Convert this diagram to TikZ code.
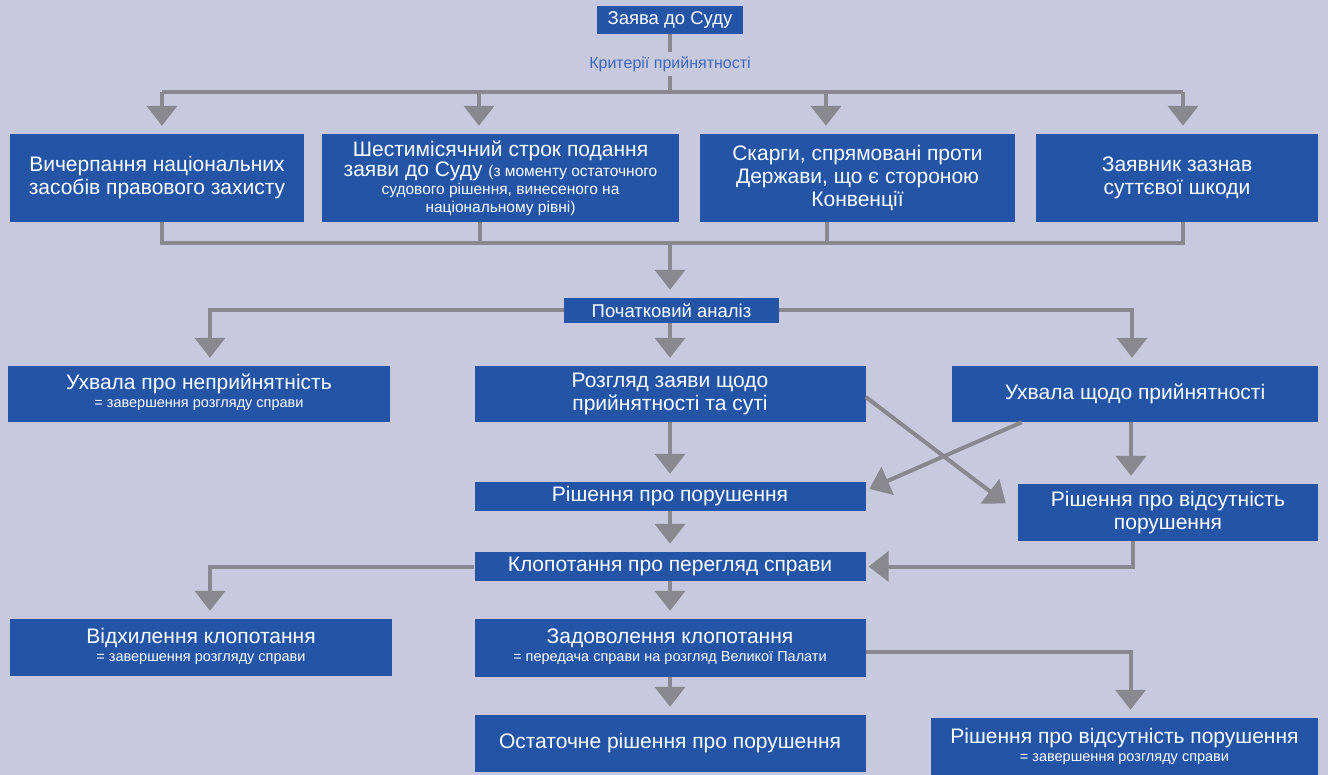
\documentclass[tikz,border=0pt]{standalone}
\usepackage{fontspec}
\setmainfont{Liberation Sans}
\usepackage{xcolor}
\usetikzlibrary{arrows.meta,positioning}

\definecolor{bgcol}{RGB}{200,201,222}
\definecolor{boxblue}{RGB}{36,84,166}
\definecolor{linegray}{RGB}{136,136,142}
\definecolor{critblue}{RGB}{58,104,190}
\newcommand{\mainsize}{\fontsize{21}{23}\selectfont}
\newcommand{\midsize}{\fontsize{18.5}{21}\selectfont}
\newcommand{\notesize}{\fontsize{15.5}{17}\selectfont}
\newcommand{\remarksize}{\fontsize{14.5}{16}\selectfont}

\begin{document}
\begin{tikzpicture}[
    x=1pt, y=-1pt,
    box/.style={
        fill=boxblue,
        text=white,
        align=center,
        inner sep=0pt,
        font=\mainsize
    },
    widebox/.style={box, minimum width=391pt},
    notebox/.style={box, text depth=6pt},
    link/.style={line width=4pt, draw=linegray},
    arrow/.style={link, -{Triangle[width=30pt,length=20pt]}, shorten >=8pt}
]
\fill[bgcol] (0,0) rectangle (1328,775);

\node[box, font=\midsize, minimum width=146pt, minimum height=28pt] (apply) at (670,20) {Заява до Суду};
\node[text=critblue, font=\fontsize{16}{18}\selectfont, inner sep=4pt] (crit) at (670,64) {Критерії прийнятності};

% criteria row
\node[box, minimum width=294pt, minimum height=88pt] (exhaust) at (157,178) {Вичерпання національних\\засобів правового захисту};
\node[box, minimum width=357pt, minimum height=88pt] (sixmonth) at (500.5,178) {Шестимісячний строк подання\\[-3pt]заяви до Суду {\notesize(з моменту остаточного}\\[-5pt]{\notesize судового рішення, винесеного на}\\[-5pt]{\notesize національному рівні)}};
\node[box, minimum width=315pt, minimum height=88pt] (state) at (857.5,178) {Скарги, спрямовані проти\\Держави, що є стороною\\Конвенції};
\node[box, minimum width=282pt, minimum height=88pt] (harm) at (1177,178) {Заявник зазнав\\суттєвої шкоди};

\node[box, font=\midsize, minimum width=215pt, minimum height=25pt] (analysis) at (671.5,310.5) {Початковий аналіз};

% after the analysis
\node[notebox, minimum width=382pt, minimum height=56pt] (inadm) at (199,394) {Ухвала про неприйнятність\\[-5pt]{\remarksize = завершення розгляду справи}};
\node[widebox, minimum height=56pt] (merits) at (670,394) {Розгляд заяви щодо\\прийнятності та суті};
\node[box, minimum width=366pt, minimum height=56pt] (admiss) at (1135,394) {Ухвала щодо прийнятності};

\node[widebox, minimum height=29pt] (violation) at (670,496.5) {Рішення про порушення};
\node[box, minimum width=300pt, minimum height=57pt] (noviol) at (1168,512.5) {Рішення про відсутність\\порушення};
\node[widebox, minimum height=29pt] (request) at (670,566.5) {Клопотання про перегляд справи};

\node[notebox, minimum width=382pt, minimum height=57pt] (dismiss) at (201,647.5) {Відхилення клопотання\\[-5pt]{\remarksize = завершення розгляду справи}};
\node[widebox, notebox, minimum height=58pt] (grant) at (670,648) {Задоволення клопотання\\[-5pt]{\remarksize = передача справи на розгляд Великої Палати}};
\node[widebox, minimum height=57pt] (final) at (670,743.5) {Остаточне рішення про порушення};
\node[box, minimum width=387pt, minimum height=57pt] (closed) at (1124.5,746.5) {Рішення про відсутність порушення\\[-5pt]{\remarksize = завершення розгляду справи}};

% criteria bar and bracket
\coordinate (k1) at (162,92);
\coordinate (k2) at (479,92);
\coordinate (k3) at (826,92);
\coordinate (k4) at (1183,92);
\coordinate (m1) at (162,243);
\coordinate (m2) at (480,243);
\coordinate (m3) at (827,243);
\coordinate (m4) at (1183,243);
\coordinate (merge) at (670,243);

\draw[link] (apply) -- (crit);
\draw[link] (crit) -- (crit |- k1);
\draw[link] (k1) -- (k4);
\draw[arrow] (k1) -- (k1 |- exhaust.north);
\draw[arrow] (k2) -- (k2 |- sixmonth.north);
\draw[arrow] (k3) -- (k3 |- state.north);
\draw[arrow] (k4) -- (k4 |- harm.north);

\draw[link] (m1 |- exhaust.south) -- (m1) -- (m4) -- (m4 |- harm.south);
\draw[link] (m2 |- sixmonth.south) -- (m2);
\draw[link] (m3 |- state.south) -- (m3);
\draw[arrow] (merge) -- (merge |- analysis.north);

\draw[arrow] (analysis.west) -| ([xshift=11pt]inadm.north);
\draw[arrow] ([xshift=-1.5pt]analysis.south) -- ([xshift=-1.5pt]analysis.south |- merits.north);
\draw[arrow] (analysis.east) -| ([xshift=-3pt]admiss.north);

\draw[arrow] (merits) -- (violation);
\draw[arrow] ([xshift=-4pt]admiss.south) -- ([xshift=-4pt]admiss.south |- noviol.north);
\draw[arrow, shorten >=15pt] ([yshift=-3pt]merits.east) -- (noviol.west);
\draw[arrow, shorten >=4pt] ([xshift=70pt]admiss.south west) -- ([yshift=6pt]violation.east);

\draw[arrow] (violation) -- (request);
\draw[arrow, shorten >=3pt] ([xshift=-35pt]noviol.south) |- (request.east);

\draw[arrow] (request.west) -| ([xshift=9pt]dismiss.north);
\draw[arrow] (request) -- (grant);
\draw[arrow] (grant) -- (final);
\draw[arrow] ([yshift=-4pt]grant.east) -| ([xshift=6pt]closed.north);
\end{tikzpicture}
\end{document}
